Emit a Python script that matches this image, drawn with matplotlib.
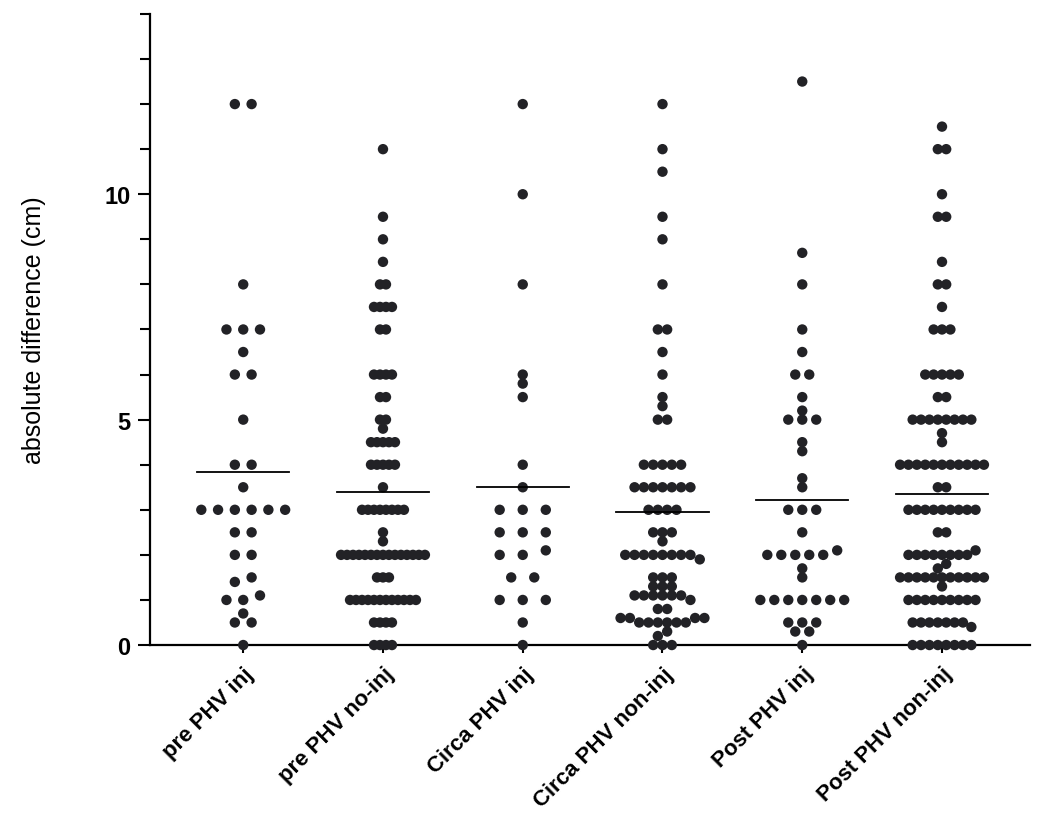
import numpy as np
import matplotlib.pyplot as plt
from matplotlib.ticker import MultipleLocator

plt.rcParams['font.family'] = ['Liberation Sans', 'DejaVu Sans']

groups = ['pre PHV inj', 'pre PHV no-inj', 'Circa PHV inj',
          'Circa PHV non-inj', 'Post PHV inj', 'Post PHV non-inj']

# (value, count) pairs
pre_inj = [(12, 2), (8, 1), (7, 3), (6.5, 1), (6, 2), (5, 1), (4, 2), (3.5, 1),
           (3, 6), (2.5, 2), (2, 2), (1.5, 1), (1.4, 1), (1.1, 1), (1, 2),
           (0.7, 1), (0.5, 2), (0, 1)]
pre_noinj = [(11, 1), (9.5, 1), (9, 1), (8.5, 1), (8, 2), (7.5, 4), (7, 2), (6, 4),
             (5.5, 2), (5, 2), (4.8, 1), (4.5, 5), (4, 5), (3.5, 1), (3, 8),
             (2.5, 1), (2.3, 1), (2, 15), (1.5, 3), (1, 12), (0.5, 4), (0, 4)]
circa_inj = [(12, 1), (10, 1), (8, 1), (6, 1), (5.8, 1), (5.5, 1), (4, 1), (3.5, 1),
             (3, 3), (2.5, 3), (2.1, 1), (2, 2), (1.5, 2), (1, 3), (0.5, 1), (0, 1)]
circa_noninj = [(12, 1), (11, 1), (10.5, 1), (9.5, 1), (9, 1), (8, 1), (7, 2),
                (6.5, 1), (6, 1), (5.5, 1), (5.3, 1), (5, 2), (4, 5), (3.5, 7),
                (3, 4), (2.5, 3), (2.3, 1), (2, 8), (1.9, 1), (1.5, 3), (1.3, 3),
                (1.1, 6), (1, 1), (0.8, 2), (0.6, 4), (0.5, 6), (0.3, 1), (0.2, 1),
                (0, 3)]
post_inj = [(12.5, 1), (8.7, 1), (8, 1), (7, 1), (6.5, 1), (6, 2), (5.5, 1), (5.2, 1),
            (5, 3), (4.5, 1), (4.3, 1), (3.7, 1), (3.5, 1), (3, 3), (2.5, 1),
            (2.1, 1), (2, 5), (1.7, 1), (1.5, 1), (1, 7), (0.5, 3), (0.3, 2), (0, 1)]
post_noninj = [(11.5, 1), (11, 2), (10, 1), (9.5, 2), (8.5, 1), (8, 2), (7.5, 1),
               (7, 3), (6, 5), (5.5, 2), (5, 8), (4.7, 1), (4.5, 1), (4, 11),
               (3.5, 2), (3, 9), (2.5, 2), (2.1, 1), (2, 8), (1.8, 1), (1.7, 1),
               (1.5, 11), (1.3, 1), (1, 9), (0.5, 7), (0.4, 1), (0, 8)]

data = [pre_inj, pre_noinj, circa_inj, circa_noninj, post_inj, post_noninj]


def expand(pairs):
    return np.array(sorted([v for v, c in pairs for _ in range(c)]))


def swarm(vals, width=0.6, smax=0.165, tol=0.15):
    # cluster close values into rows, spread each row around the centre
    rows = []
    for v in vals:
        if rows and v - rows[-1][-1] < tol:
            rows[-1].append(v)
        else:
            rows.append([v])
    nmax = max(len(r) for r in rows)
    s = smax if nmax < 2 else min(smax, width / (nmax - 1))
    xs, ys = [], []
    for r in rows:
        n = len(r)
        vals_r, counts = np.unique(r, return_counts=True)
        mode = vals_r[np.argmax(counts)]
        order = sorted(r, key=lambda q: abs(q - mode))
        if n % 2:
            slots = [0] + [k * sgn for k in range(1, n) for sgn in (-1, 1)]
        else:
            slots = [(k + 0.5) * sgn for k in range(n) for sgn in (-1, 1)]
        for q, sl in zip(order, slots[:n]):
            xs.append(sl * s)
            ys.append(q)
    return np.array(xs), np.array(ys)


fig = plt.figure(figsize=(10.5, 8.29), dpi=100)
ax = fig.add_axes([0.143, 0.2207, 0.838, 0.7613])

for i, pairs in enumerate(data):
    vals = expand(pairs)
    dx, yy = swarm(vals)
    ax.scatter(i + dx, yy, s=56, color='#222226', edgecolors='none',
               zorder=3, clip_on=False)
    m = vals.mean()
    ax.plot([i - 0.33, i + 0.33], [m, m], color='black', lw=1.3, zorder=4)

ax.set_xlim(-0.666, 5.63)
ax.set_ylim(0, 14)
ax.yaxis.set_major_locator(MultipleLocator(5))
ax.yaxis.set_minor_locator(MultipleLocator(1))
ax.set_xticks(range(len(groups)))
ax.set_xticklabels(groups, rotation=45, ha='right', rotation_mode='anchor',
                   fontsize=16, fontweight='bold')
for lab in ax.get_yticklabels():
    lab.set_fontweight('bold')
ax.tick_params(axis='y', which='major', length=9, width=1.5, labelsize=17, pad=5)
ax.tick_params(axis='y', which='minor', length=7, width=1.5)
ax.tick_params(axis='x', length=6, width=1.5, pad=7)

for side in ['top', 'right']:
    ax.spines[side].set_visible(False)
for side in ['left', 'bottom']:
    ax.spines[side].set_linewidth(1.6)

ax.set_ylabel('absolute difference (cm)', fontsize=18, labelpad=42)

fig.savefig('out.png', dpi=100)
